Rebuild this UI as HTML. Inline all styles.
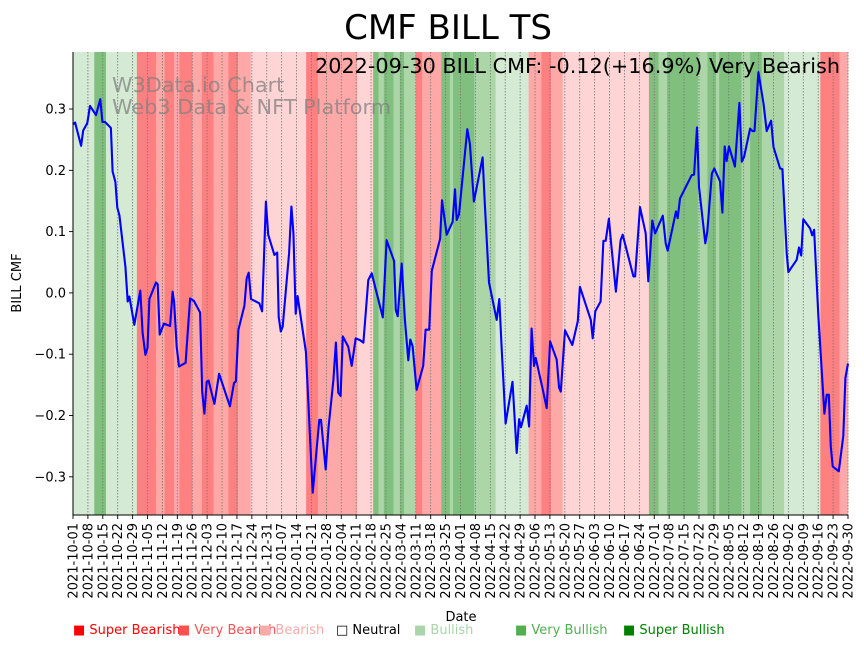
<!DOCTYPE html>
<html><head><meta charset="utf-8"><style>
html,body{margin:0;padding:0;background:#fff;}
svg{display:block;font-family:"DejaVu Sans","Liberation Sans",sans-serif;}
</style></head><body>
<svg id="chart" width="864" height="646" viewBox="0 0 864 646"></svg>
<script>
// ---- data ----
const startDate = '2021-10-01';
const numDays = 365;
const bandStarts = [0,10,15.5,30,39,43,47.5,50,56,60.5,66,73,77.5,83.5,109.5,115,133.5,141,143.5,146,150.5,153.5,155.5,161,164,173,177,178.5,188.5,198.5,214,220,224.5,230,270.5,275,279,293.5,298,302,303.5,314,318,323.5,334,351,360];
const bandCats = ['bull','vbull','bull','sbear','vbear','sbear','vbear','sbear','vbear','sbear','vbear','sbear','vbear','bear','sbear','vbear','bear','vbull','bullm','vbull','bullm','vbull','bullm','sbear','vbear','vbull','bullm','vbull','bullm','bull','vbear','sbear','vbear','bear','vbull','bullm','vbull','bullm','vbull','bullm','vbull','bullm','vbull','bullm','bull','sbear','vbear'];
const lineDays = [0,1,3.8,4.8,6.7,8,10.8,12.8,13.8,15,17.8,18.6,19.9,20.8,21.8,24.6,25.7,26.5,28.8,31.6,32.7,34,35,35.9,39,39.8,40.7,42.7,45.6,46.8,47.5,48.7,49.8,52.9,55,56.8,59.7,60.7,61.7,62.8,63.7,66.4,68.6,73.7,75.6,76.5,77.7,80.5,81.6,82.5,83.6,87.5,88.8,90.6,91.7,94.6,95.9,96.6,97.6,98.5,101.5,102.6,103.5,104.6,105.5,109.4,112.6,115.7,116.5,118.7,120,122.3,123.5,124.6,125.7,126.7,129.3,130.9,132.8,134.8,136.4,138.7,140.3,145.5,147.3,150.8,151.6,152.5,154.4,155.9,157.5,158.4,159.5,161.4,164.5,165.6,167.3,168.5,172.4,173.3,175.5,178.3,179.4,180.2,181.3,185.2,186.4,188.3,192.4,193.4,195.4,199,200.2,201.3,203.2,206.4,208.4,209.5,210.4,213.1,214.2,215.4,216.5,217.3,220.6,222.5,224.1,227.2,228.3,229.1,231.1,234.5,237.1,238.1,243.2,244.1,245.3,247.8,249.1,250.2,251.7,252.7,255,257.2,258.2,263.2,264,266.3,269,270.2,272.1,273.4,277,278.4,279.3,283.2,284,285.1,290.6,291.7,293.1,294,297,297.9,300.1,301.2,303.9,305,306.1,307,308.1,310.9,313,314.1,315.2,318,319.1,320.1,321.9,324.3,325.8,327.9,329,332.1,333.2,335.2,336,339.9,341,342,343,346.2,347.2,348.1,350.1,352.9,354,355,355.9,356.8,359.7,361.8,362.8,364];
const lineValues = [0.275,0.278,0.24,0.265,0.277,0.305,0.29,0.316,0.279,0.279,0.269,0.198,0.181,0.139,0.127,0.043,-0.014,-0.006,-0.052,0.004,-0.065,-0.101,-0.09,-0.01,0.017,0.014,-0.068,-0.05,-0.054,0.002,-0.015,-0.088,-0.12,-0.114,-0.009,-0.013,-0.032,-0.161,-0.197,-0.145,-0.143,-0.181,-0.132,-0.185,-0.147,-0.144,-0.06,-0.021,0.024,0.033,-0.01,-0.017,-0.03,0.149,0.095,0.062,0.066,-0.039,-0.063,-0.055,0.065,0.141,0.098,-0.034,-0.005,-0.096,-0.326,-0.207,-0.207,-0.288,-0.22,-0.142,-0.081,-0.163,-0.168,-0.071,-0.088,-0.119,-0.074,-0.077,-0.081,0.021,0.032,-0.04,0.086,0.052,-0.028,-0.038,0.048,-0.044,-0.11,-0.076,-0.087,-0.158,-0.119,-0.06,-0.06,0.036,0.088,0.151,0.095,0.116,0.169,0.119,0.128,0.267,0.243,0.149,0.221,0.146,0.017,-0.044,-0.01,-0.088,-0.213,-0.145,-0.261,-0.206,-0.219,-0.184,-0.218,-0.058,-0.119,-0.106,-0.157,-0.188,-0.079,-0.109,-0.155,-0.161,-0.061,-0.085,-0.046,0.01,-0.044,-0.074,-0.03,-0.014,0.085,0.085,0.121,0.083,0.002,0.086,0.095,0.027,0.027,0.14,0.097,0.019,0.118,0.097,0.126,0.081,0.069,0.133,0.122,0.154,0.192,0.193,0.27,0.173,0.081,0.1,0.195,0.203,0.182,0.131,0.239,0.215,0.239,0.206,0.31,0.214,0.222,0.268,0.264,0.264,0.36,0.309,0.264,0.281,0.238,0.203,0.202,0.065,0.034,0.054,0.074,0.061,0.12,0.105,0.094,0.103,-0.039,-0.197,-0.166,-0.166,-0.251,-0.283,-0.291,-0.233,-0.139,-0.115];
const yTicks = [-0.3,-0.2,-0.1,0.0,0.1,0.2,0.3];
const yTickLabels = ['−0.3','−0.2','−0.1','0.0','0.1','0.2','0.3'];
const legendLabels = ['Super Bearish','Very Bearish','Bearish','Neutral','Bullish','Very Bullish','Super Bullish'];

// ---- layout ----
const NS='http://www.w3.org/2000/svg';
const svg=document.getElementById('chart');
const L=73,R=848,T=52,B=515;
const yMin=-0.3623,yMax=0.393;
function xScale(d){return L+d*(R-L)/(numDays-1);}
function yScale(v){return B-(v-yMin)/(yMax-yMin)*(B-T);}
const bandColors={sbear:'#ff8080',vbear:'#ffa8a8',bear:'#ffd4d4',bull:'#d4ead2',bullm:'#acd6a8',vbull:'#80bf7e'};
function el(tag,attrs,parent){const e=document.createElementNS(NS,tag);for(const k in attrs)e.setAttribute(k,attrs[k]);(parent||svg).appendChild(e);return e;}

// bands
const gb=el('g',{});


for(let i=0;i<bandStarts.length;i++){
  const s=bandStarts[i], e=(i+1<bandStarts.length)?bandStarts[i+1]:numDays-1;
  const x0=Math.max(L,xScale(s)), x1=Math.min(R,xScale(e));
  const r=el('rect',{x:x0,y:T,width:Math.max(0,x1-x0)+0.3,height:B-T,fill:bandColors[bandCats[i]]},gb);
  
  
}
// grid + x ticks
const gx=el('g',{});


const sd=new Date(startDate+'T00:00:00Z');
for(let d=0;d<numDays;d+=7){
  const x=xScale(d);
  el('line',{x1:x,y1:T,x2:x,y2:B,stroke:'#777','stroke-width':0.8,'stroke-dasharray':'1.5,1.5'},gx);
  el('line',{x1:x,y1:B,x2:x,y2:B+4,stroke:'#000','stroke-width':0.9},gx);
  const dt=new Date(sd.getTime()+d*86400000);
  const lab=dt.toISOString().slice(0,10);
  const t=el('text',{x:0,y:0,'font-size':13,'text-anchor':'end',transform:`translate(${x+4.5},${B+8}) rotate(-90)`},gx);
  t.textContent=lab;
  
  
}
// y ticks
const gy=el('g',{});


yTicks.forEach((v,i)=>{
  const y=yScale(v);
  el('line',{x1:L-4,y1:y,x2:L,y2:y,stroke:'#000','stroke-width':0.9},gy);
  const t=el('text',{x:L-7,y:y+4.5,'font-size':13,'text-anchor':'end'},gy);
  t.textContent=yTickLabels[i];
  
  
});
// line
let dstr='';
lineDays.forEach((d,i)=>{dstr+=(i?'L':'M')+xScale(d).toFixed(1)+','+yScale(lineValues[i]).toFixed(1);});
const ln=el('path',{d:dstr,fill:'none',stroke:'#0000ff','stroke-width':2.1,'stroke-linejoin':'round'});


// spines
el('line',{x1:L,y1:T,x2:L,y2:B+0.5,stroke:'#000','stroke-width':1});
el('line',{x1:L,y1:B,x2:R,y2:B,stroke:'#000','stroke-width':1});
</script>
<svg width="864" height="646" style="position:absolute;left:0;top:0">
<g font-family="DejaVu Sans, Liberation Sans, sans-serif">
<text x="448" y="39" font-size="34" text-anchor="middle">CMF BILL TS</text>
<text x="840" y="73" font-size="20.8" text-anchor="end" textLength="525" lengthAdjust="spacingAndGlyphs">2022-09-30 BILL CMF: -0.12(+16.9%) Very Bearish</text>
<text x="112" y="92" font-size="20.8" fill="#808080" fill-opacity="0.75">W3Data.io Chart</text>
<text x="112" y="114" font-size="20.8" fill="#808080" fill-opacity="0.75" textLength="279" lengthAdjust="spacingAndGlyphs">Web3 Data &amp; NFT Platform</text>
<text x="461" y="621" font-size="13" text-anchor="middle">Date</text>
<text transform="translate(21,283) rotate(-90)" font-size="13" text-anchor="middle">BILL CMF</text>
<g font-size="13">
<text x="73" y="634" fill="#ff0000">■ Super Bearish</text>
<text x="178" y="634" fill="#ff5050">■ Very Bearish</text>
<text x="259" y="634" fill="#ffaaaa">■ Bearish</text>
<text x="336" y="634" fill="#000">□ Neutral</text>
<text x="414" y="634" fill="#aad4aa">■ Bullish</text>
<text x="515" y="634" fill="#50b050">■ Very Bullish</text>
<text x="623" y="634" fill="#008000">■ Super Bullish</text>
</g></g></svg>
</body></html>
